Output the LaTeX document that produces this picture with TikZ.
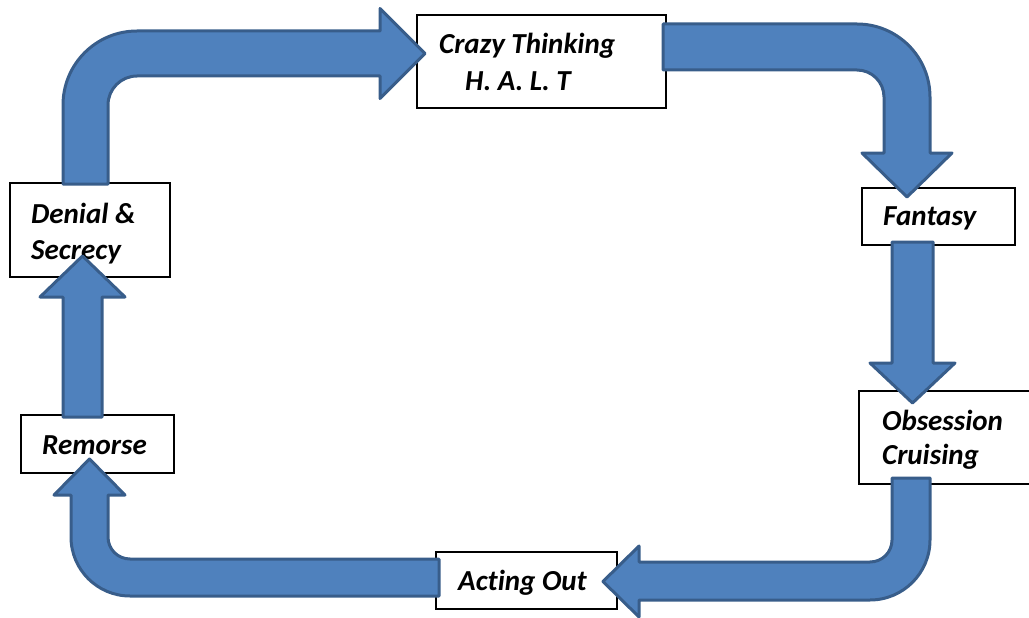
\documentclass[tikz,border=0pt]{standalone}
\usepackage{fontspec}
\setmainfont{Carlito}[Ligatures=NoCommon]
\definecolor{arrfill}{HTML}{4F81BD}
\definecolor{arrline}{HTML}{385D8A}
\begin{document}
\begin{tikzpicture}[x=1pt,y=-1pt,
  box/.style={draw=black,line width=1.8pt,fill=white,inner sep=0pt},
  lbl/.style={anchor=base west,inner sep=0pt,font=\fontsize{29}{34}\selectfont\bfseries\itshape},
  blockarrow/.style={fill=arrfill,draw=arrline,line width=3pt,line join=round}]
\useasboundingbox (0,0) rectangle (1029,618);
% boxes
\node[box,minimum width=249pt,minimum height=93pt] (crazy) at (541.5,61.5) {};
\node[box,minimum width=160pt,minimum height=94pt] (den) at (90,230) {};
\node[box,minimum width=153pt,minimum height=57pt] (fan) at (938.5,216.5) {};
\node[box,minimum width=172pt,minimum height=93pt] (obs) at (945,437.5) {};
\node[box,minimum width=153pt,minimum height=58pt] (rem) at (97.5,444) {};
\node[box,minimum width=181pt,minimum height=57pt] (act) at (526.5,580.5) {};
% labels
\node[lbl] (t1) at (439,54) {Crazy Thinking};
\node[lbl] (t2) at (465,91) {H. A. L. T};
\node[lbl] (t3) at (31,223.5) {Denial \&};
\node[lbl] (t4) at (31,259) {Secrecy};
\node[lbl] (t5) at (883,225) {Fantasy};
\node[lbl] (t6) at (882,430) {Obsession};
\node[lbl] (t7) at (882,464) {Cruising};
\node[lbl] (t8) at (42,454) {Remorse};
\node[lbl] (t9) at (458,590) {Acting Out};
% arrow: Denial -> Crazy Thinking
\draw[blockarrow] (63,184) -- (63,105)
  .. controls (63,64.1) and (96.1,31) .. (137,31)
  -- (380,31) -- (380,8.5) -- (425,53.5) -- (380,98.5) -- (380,76) -- (137,76)
  .. controls (121,76) and (108,89) .. (108,105) -- (108,184) -- cycle;
% arrow: Crazy Thinking -> Fantasy
\draw[blockarrow] (663,24) -- (857,24)
  .. controls (897.3,24) and (930,56.7) .. (930,97)
  -- (930,153) -- (952,153) -- (907,197) -- (862,153) -- (884,153) -- (884,97)
  .. controls (884,82.1) and (871.9,70) .. (857,70) -- (663,70) -- cycle;
% arrow: Fantasy -> Obsession
\draw[blockarrow] (892,242) -- (933,242) -- (933,363) -- (955,363) -- (912.5,403)
  -- (870,363) -- (892,363) -- cycle;
% arrow: Obsession -> Acting Out
\draw[blockarrow] (892,478) -- (930,478) -- (930,540)
  .. controls (930,573.1) and (903.1,600) .. (870,600)
  -- (639,600) -- (639,617) -- (603,581.5) -- (639,546) -- (639,562) -- (870,562)
  .. controls (882.2,562) and (892,552.2) .. (892,540) -- cycle;
% arrow: Acting Out -> Remorse
\draw[blockarrow] (439,559) -- (130,559)
  .. controls (117.8,559) and (108,549.2) .. (108,537)
  -- (108,495) -- (125,495) -- (89.5,459) -- (54,495) -- (71,495) -- (71,537)
  .. controls (71,569.6) and (97.4,596) .. (130,596) -- (439,596) -- cycle;
% arrow: Remorse -> Denial
\draw[blockarrow] (63,417) -- (63,297) -- (40,297) -- (82.5,256) -- (125,297)
  -- (102,297) -- (102,417) -- cycle;
\end{tikzpicture}
\end{document}
